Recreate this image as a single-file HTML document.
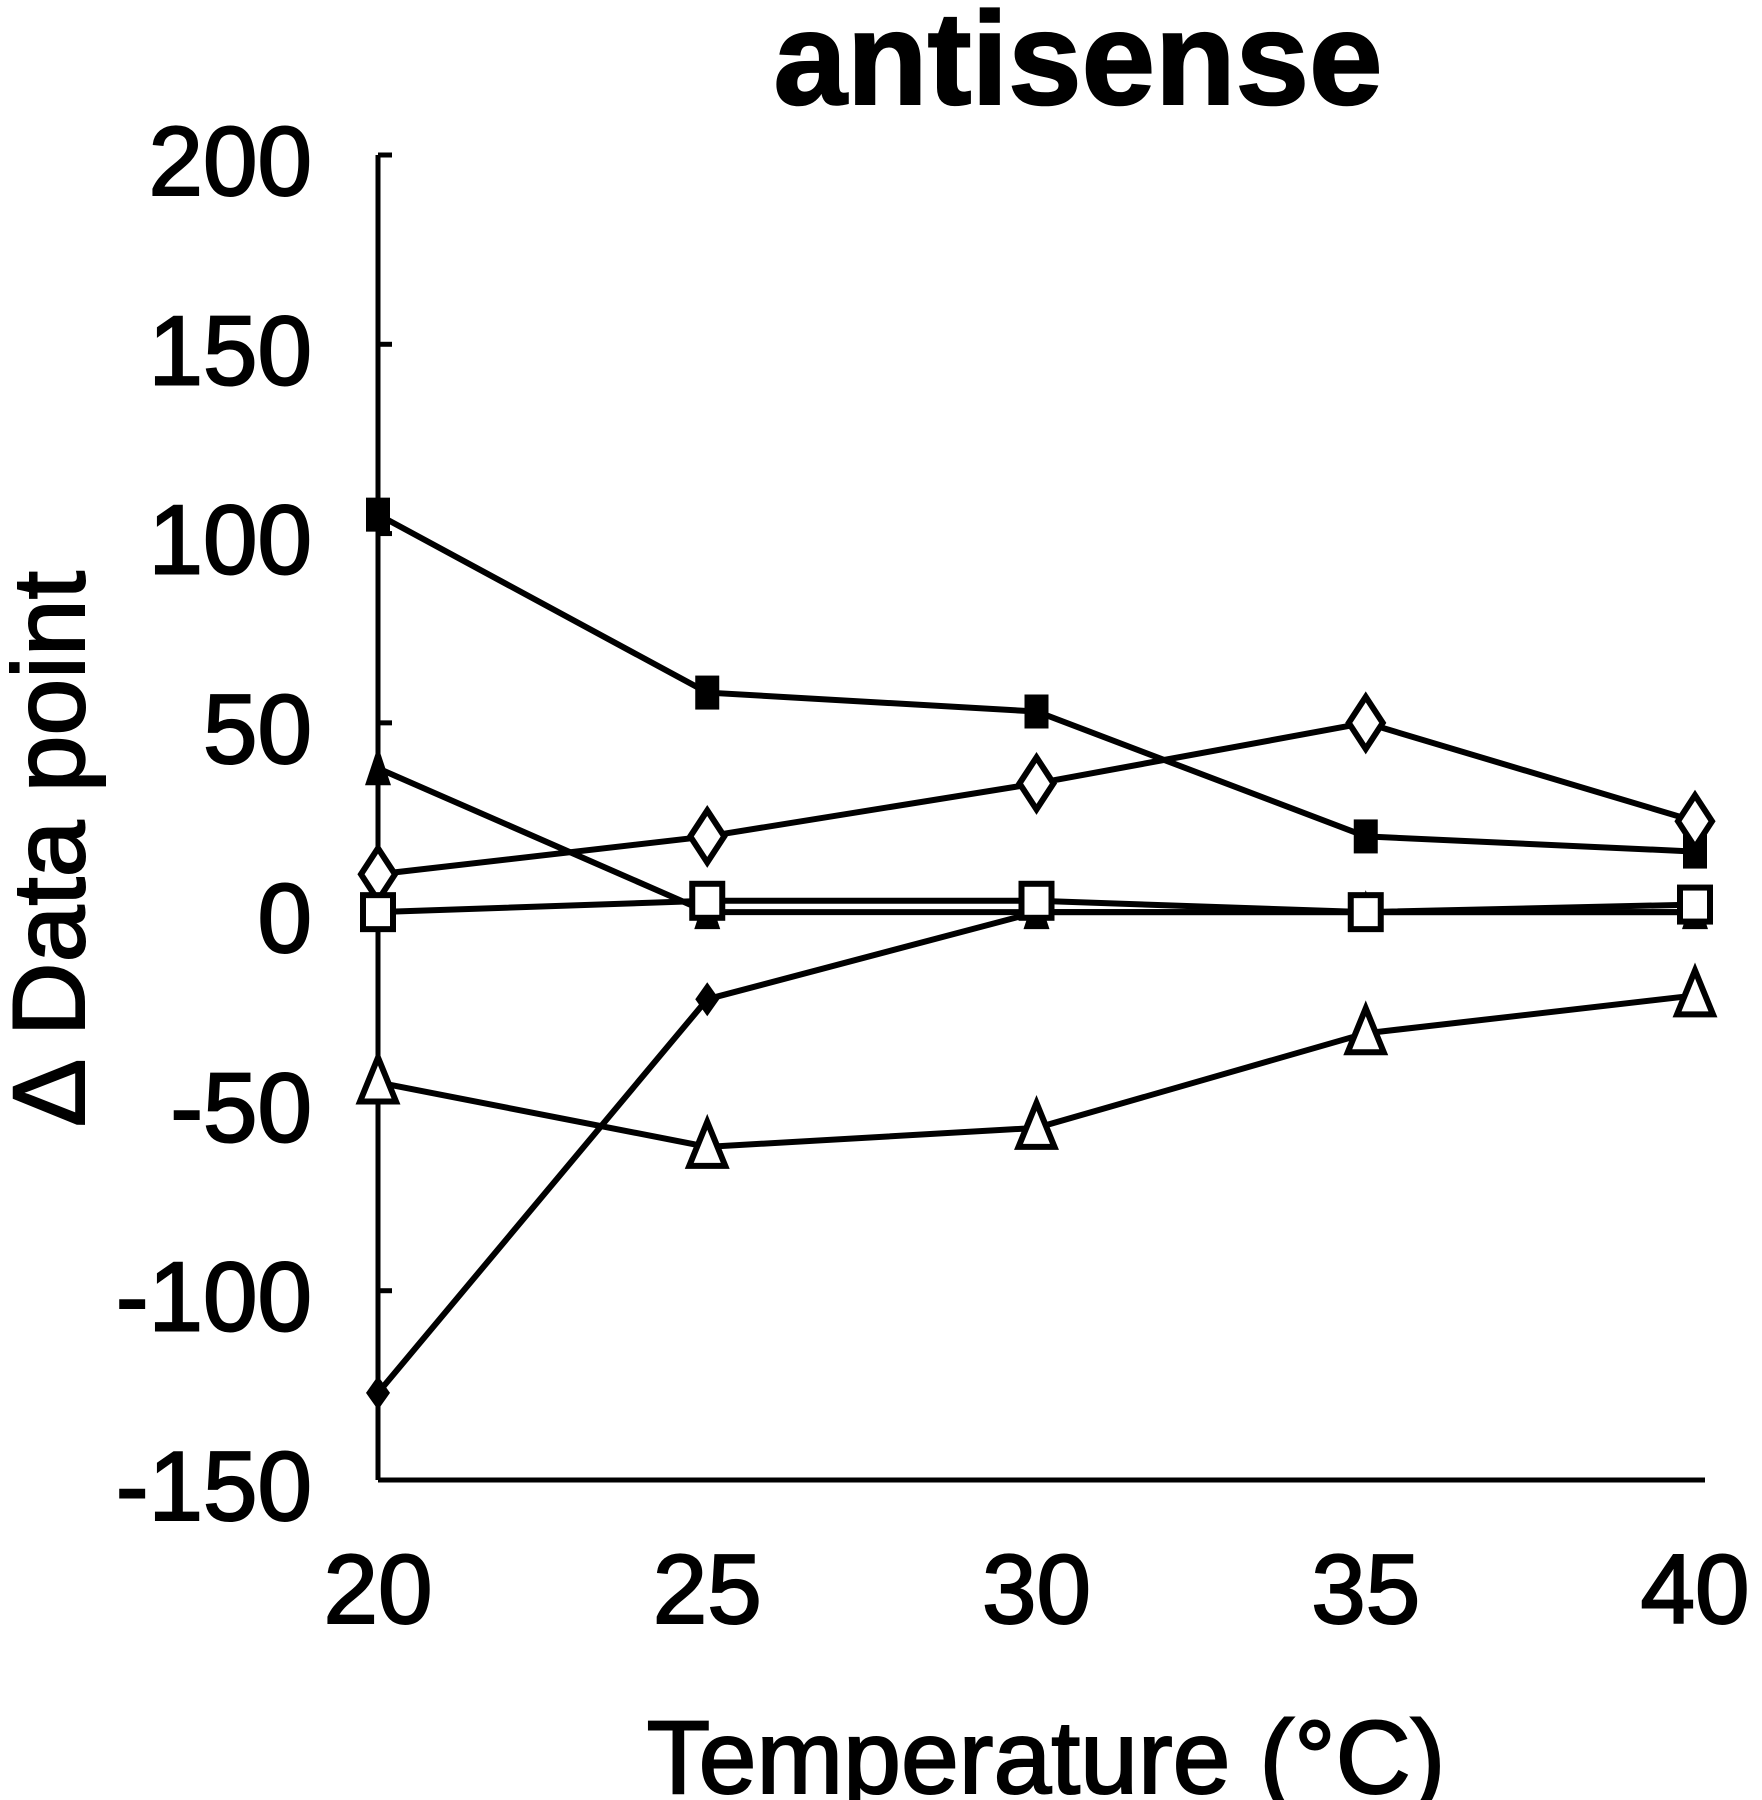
<!DOCTYPE html>
<html><head><meta charset="utf-8"><style>
html,body{margin:0;padding:0;background:#fff;}
svg{display:block;font-family:"Liberation Sans",Arial,sans-serif;}
text{stroke:#000;stroke-width:2;}
</style></head><body>
<svg id="chart" width="1762" height="1800" viewBox="0 0 1762 1800">
<text x="1078" y="104" text-anchor="middle" font-size="132" font-weight="bold">antisense</text>
<g id="axes"></g>
<g id="series"></g>
<text x="1046" y="1793" text-anchor="middle" font-size="104">Temperature (°C)</text>
<text transform="translate(84,849) rotate(-90)" text-anchor="middle" font-size="102">Δ Data point</text>
</svg>
<script>
const categories=[20,25,30,35,40];
const yTicks=[200,150,100,50,0,-50,-100,-150];
const filledSquare=[105,58,53,20,16];
const openDiamond=[10,20,34,50,24];
const filledTriangle=[38,0,0,0,0];
const openSquare=[0,3,3,0,2];
const filledDiamond=[-127,-23,0,0,0];
const openTriangle=[-45,-62,-57,-32,-22];

const NS="http://www.w3.org/2000/svg";
const x0=378,x1=1695,y200=155,ym150=1480;
const xs=v=>x0+(v-20)/20*(x1-x0);
const ys=v=>y200+(200-v)/350*(ym150-y200);
function mk(t,a,p){const e=document.createElementNS(NS,t);for(const k in a)e.setAttribute(k,a[k]);p.appendChild(e);return e;}
const axes=document.getElementById('axes');
let yl=mk('line',{x1:x0,y1:y200,x2:x0,y2:ym150,stroke:'#000','stroke-width':5},axes);


let xl=mk('line',{x1:x0,y1:ym150,x2:1705,y2:ym150,stroke:'#000','stroke-width':5},axes);


yTicks.forEach(t=>{
  const y=ys(t);
  const tk=mk('line',{x1:x0,y1:y,x2:x0+14,y2:y,stroke:'#000','stroke-width':5},axes);
  
  
  const tx=mk('text',{x:312,y:y+40,'text-anchor':'end','font-size':98},axes);
  tx.textContent=t;
  
  
});
categories.forEach(c=>{
  const tx=mk('text',{x:xs(c),y:1623,'text-anchor':'middle','font-size':98},axes);
  tx.textContent=c;
  
  
});
const sg=document.getElementById('series');
function marker(g,type,cx,cy){
  let e;
  if(type==='fsq'){e=mk('rect',{x:cx-12,y:cy-17,width:24,height:34,fill:'#000'},g);}
  else if(type==='osq'){e=mk('rect',{x:cx-15,y:cy-17,width:30,height:34,fill:'#fff',stroke:'#000','stroke-width':6},g);}
  else if(type==='odi'){e=mk('polygon',{points:`${cx},${cy-26} ${cx+17},${cy} ${cx},${cy+26} ${cx-17},${cy}`,fill:'#fff',stroke:'#000','stroke-width':6},g);}
  else if(type==='fdi'){e=mk('polygon',{points:`${cx},${cy-17} ${cx+12},${cy} ${cx},${cy+17} ${cx-12},${cy}`,fill:'#000'},g);}
  else if(type==='ftr'){e=mk('polygon',{points:`${cx},${cy-22} ${cx+13},${cy+17} ${cx-13},${cy+17}`,fill:'#000'},g);}
  else {e=mk('polygon',{points:`${cx},${cy-25} ${cx+18},${cy+19} ${cx-18},${cy+19}`,fill:'#fff',stroke:'#000','stroke-width':6},g);}
  
  
}
const series=[[filledSquare,'fsq','filled-square-series'],[openDiamond,'odi','open-diamond-series'],[filledTriangle,'ftr','filled-triangle-series'],[filledDiamond,'fdi','filled-diamond-series'],[openTriangle,'otr','open-triangle-series'],[openSquare,'osq','open-square-series']];
series.forEach(([vals,type,name])=>{
  const g=mk('g',{},sg);
  
  
  const pl=mk('polyline',{points:vals.map((v,i)=>xs(categories[i])+','+ys(v)).join(' '),fill:'none',stroke:'#000','stroke-width':6},g);
  
  
  vals.forEach((v,i)=>marker(g,type,xs(categories[i]),ys(v)));
});
</script>
</body></html>
